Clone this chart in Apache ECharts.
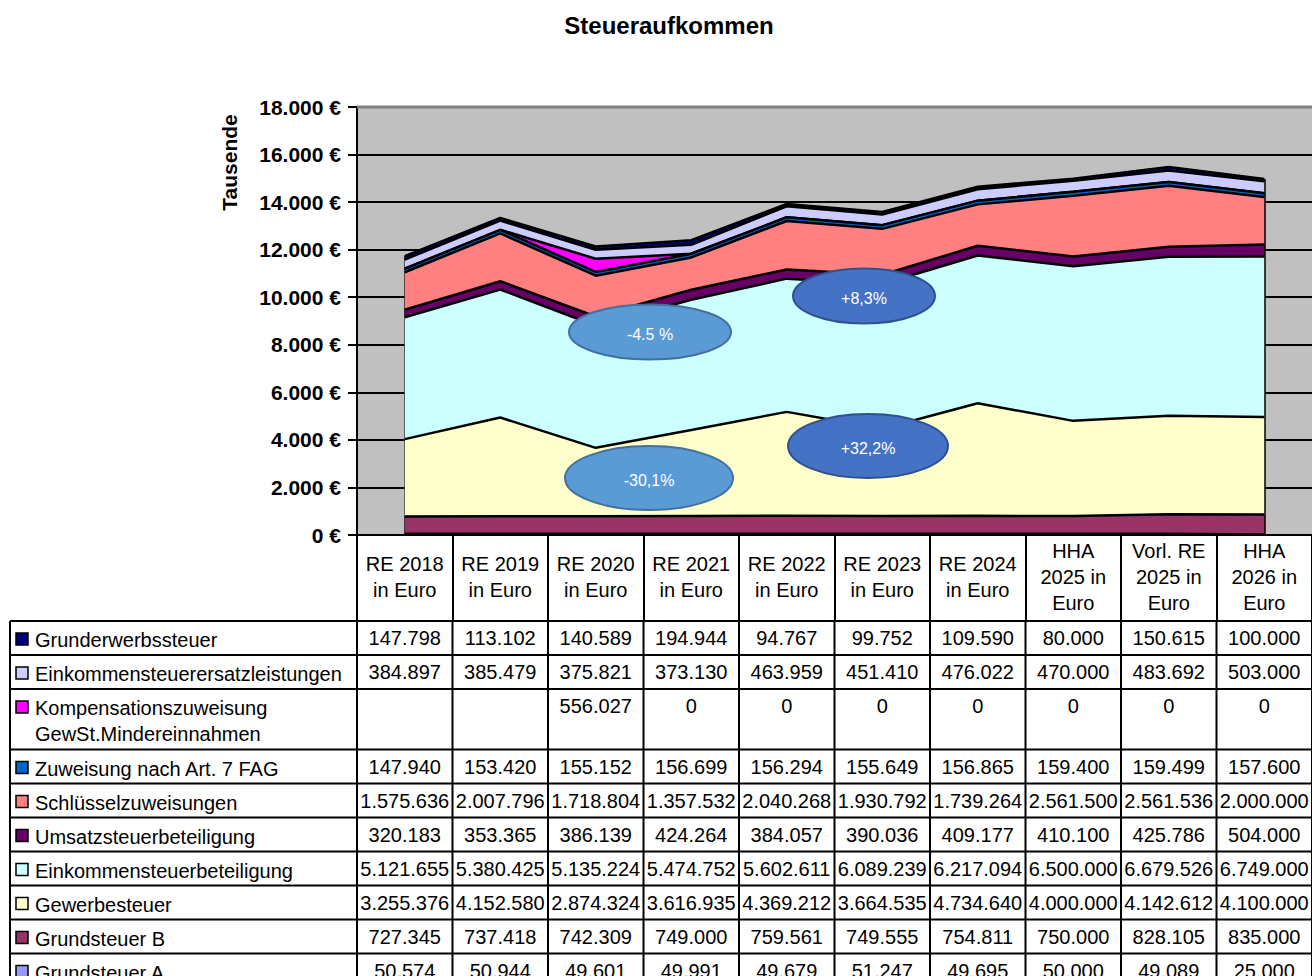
<!DOCTYPE html>
<html>
<head>
<meta charset="utf-8">
<title>Steueraufkommen</title>
<script src="https://cdn.jsdelivr.net/npm/echarts@6/dist/echarts.min.js"></script>
<style>
  html, body { margin: 0; padding: 0; background: #fff; }
  #chart { width: 1312px; height: 976px; }
</style>
</head>
<body>
<div id="chart"></div>
<script>
// column headers of the data table (= x categories)
const categories = [
  'RE 2018\nin Euro', 'RE 2019\nin Euro', 'RE 2020\nin Euro', 'RE 2021\nin Euro',
  'RE 2022\nin Euro', 'RE 2023\nin Euro', 'RE 2024\nin Euro',
  'HHA\n2025 in\nEuro', 'Vorl. RE\n2025 in\nEuro', 'HHA\n2026 in\nEuro'
];

// rows of the table, top to bottom, values in Euro
const rowNames = [
  'Grunderwerbssteuer',
  'Einkommensteuerersatzleistungen',
  'Kompensationszuweisung\nGewSt.Mindereinnahmen',
  'Zuweisung nach Art. 7 FAG',
  'Schlüsselzuweisungen',
  'Umsatzsteuerbeteiligung',
  'Einkommensteuerbeteiligung',
  'Gewerbesteuer',
  'Grundsteuer B',
  'Grundsteuer A'
];
const rowColors = ['#000080', '#CCCCFF', '#FF00FF', '#0066CC', '#FF8080',
                   '#660066', '#CCFFFF', '#FFFFCC', '#993366', '#9999FF'];

const grunderwerbssteuer = [147798, 113102, 140589, 194944, 94767, 99752, 109590, 80000, 150615, 100000];
const ersatzleistungen   = [384897, 385479, 375821, 373130, 463959, 451410, 476022, 470000, 483692, 503000];
const kompensation       = [null, null, 556027, 0, 0, 0, 0, 0, 0, 0];
const zuweisungFag       = [147940, 153420, 155152, 156699, 156294, 155649, 156865, 159400, 159499, 157600];
const schluessel         = [1575636, 2007796, 1718804, 1357532, 2040268, 1930792, 1739264, 2561500, 2561536, 2000000];
const umsatzsteuer       = [320183, 353365, 386139, 424264, 384057, 390036, 409177, 410100, 425786, 504000];
const einkommensteuer    = [5121655, 5380425, 5135224, 5474752, 5602611, 6089239, 6217094, 6500000, 6679526, 6749000];
const gewerbesteuer      = [3255376, 4152580, 2874324, 3616935, 4369212, 3664535, 4734640, 4000000, 4142612, 4100000];
const grundsteuerB       = [727345, 737418, 742309, 749000, 759561, 749555, 754811, 750000, 828105, 835000];
const grundsteuerA       = [50574, 50944, 49601, 49991, 49679, 51247, 49695, 50000, 49089, 25000];

const rows = [grunderwerbssteuer, ersatzleistungen, kompensation, zuweisungFag, schluessel,
              umsatzsteuer, einkommensteuer, gewerbesteuer, grundsteuerB, grundsteuerA];

// callouts drawn on the chart
const noteTexts = ['-4.5 %', '+8,3%', '+32,2%', '-30,1%'];

const FONT = '"Liberation Sans", Arial, sans-serif';
const fmt = v => String(v).replace(/\B(?=(\d{3})+(?!\d))/g, '.');

// chart is in thousands ("Tausende")
const totals = categories.map((c, i) => rows.reduce((s, r) => s + (r[i] || 0), 0) / 1000);

const series = [];
for (let k = rows.length - 1; k >= 0; k--) {
  const level = rows.length - 1 - k; // 0 = bottom layer
  series.push({
    name: rowNames[k].replace('\n', ' '),
    type: 'line',
    stack: 'steuer',
    z: 40 - level, // lower layers on top so each border line stays whole
    symbol: 'none',
    showSymbol: false,
    data: rows[k].map(v => (v == null ? 0 : v / 1000)),
    lineStyle: { color: '#000', width: 2.5 },
    itemStyle: { color: rowColors[k] },
    areaStyle: { color: rowColors[k], opacity: 1 },
    animation: false
  });
}
// vertical edges of the area block
series[0].markLine = {
  silent: true,
  symbol: ['none', 'none'],
  label: { show: false },
  lineStyle: { color: '#000', width: 2.5, type: 'solid' },
  animation: false,
  data: [
    [{ coord: [0, 0] }, { coord: [0, totals[0]] }],
    [{ coord: [categories.length - 1, 0] }, { coord: [categories.length - 1, totals[categories.length - 1]] }]
  ]
};

const chart = echarts.init(document.getElementById('chart'), null, { renderer: 'svg' });

chart.setOption({
  animation: false,
  title: {
    text: 'Steueraufkommen',
    left: 664,
    top: 8,
    textAlign: 'center',
    textStyle: { fontSize: 24, fontWeight: 'bold', color: '#000', fontFamily: FONT }
  },
  grid: {
    left: 357,
    top: 107,
    width: 956,
    height: 428,
    show: true,
    backgroundColor: '#C0C0C0',
    borderWidth: 0
  },
  xAxis: {
    type: 'category',
    data: categories,
    boundaryGap: true,
    axisLine: { lineStyle: { color: '#000', width: 2 } },
    axisTick: { show: true, length: 86, lineStyle: { color: '#000', width: 2 } },
    axisLabel: {
      interval: 0,
      margin: 42,
      verticalAlign: 'middle',
      fontSize: 20,
      lineHeight: 26,
      color: '#000',
      fontFamily: FONT
    }
  },
  yAxis: {
    type: 'value',
    min: 0,
    max: 18000,
    interval: 2000,
    axisLine: { show: true, lineStyle: { color: '#000', width: 2 } },
    axisTick: { show: true, length: 9, lineStyle: { color: '#000', width: 2 } },
    axisLabel: {
      margin: 16,
      fontSize: 21,
      fontWeight: 'bold',
      color: '#000',
      fontFamily: FONT,
      formatter: v => fmt(v) + ' €'
    },
    splitLine: { show: true, lineStyle: { color: '#000', width: 2 } }
  },
  series: series
});

// ---- data table, ellipses and extra text ----
const centers = categories.map((c, i) => chart.convertToPixel({ xAxisIndex: 0 }, i));
const step = centers[1] - centers[0];
const edges = [];
for (let i = 0; i <= categories.length; i++) edges.push(centers[0] - step / 2 + i * step);
const tableLeft = 10;
const tableRight = edges[edges.length - 1];

const graphics = [];
const txt = (x, y, text, extra) => ({
  type: 'text', x: x, y: y, z: 50,
  style: Object.assign({ text: text, fill: '#000', fontSize: 20, fontFamily: FONT, lineHeight: 26 }, extra || {})
});
const hline = (y, x1, x2, color, w) => ({
  type: 'line', z: 50, shape: { x1: x1, y1: y, x2: x2, y2: y }, style: { stroke: color || '#000', lineWidth: w || 2 }
});
const vline = (x, y1, y2) => ({
  type: 'line', z: 50, shape: { x1: x, y1: y1, x2: x, y2: y2 }, style: { stroke: '#000', lineWidth: 2 }
});

let y = 621;
rowNames.forEach((name, k) => {
  const lines = name.split('\n').length;
  const h = 34 + (lines - 1) * 26.5;
  graphics.push(hline(y, tableLeft, tableRight));
  graphics.push({
    type: 'rect', z: 50,
    shape: { x: 16, y: y + 12, width: 12, height: 12 },
    style: { fill: rowColors[k], stroke: '#000', lineWidth: 1.5 }
  });
  graphics.push(txt(35, y + 6, name, { align: 'left', verticalAlign: 'top' }));
  rows[k].forEach((v, i) => {
    if (v == null) return;
    graphics.push(txt(centers[i], y + 4, fmt(v), { align: 'center', verticalAlign: 'top' }));
  });
  y += h;
});
graphics.push(hline(y, tableLeft, tableRight));
graphics.push(vline(tableLeft, 621, y));
edges.forEach(x => graphics.push(vline(x, 621, y)));

// grey top border of the plot area
graphics.push(hline(107, edges[0], tableRight, '#808080', 3));

// axis unit
graphics.push({
  type: 'text', x: 229.5, y: 162.5, rotation: Math.PI / 2, z: 50,
  style: { text: 'Tausende', fontSize: 21, fontWeight: 'bold', fontFamily: FONT, fill: '#000',
           align: 'center', verticalAlign: 'middle' }
});

// percentage callouts
const notes = [
  { cx: 650, cy: 332, rx: 81, ry: 27.5, fill: '#5B9BD5', stroke: '#41719C' },
  { cx: 864, cy: 296, rx: 71, ry: 27.5, fill: '#4472C4', stroke: '#2F528F' },
  { cx: 868, cy: 446, rx: 80, ry: 32, fill: '#4472C4', stroke: '#2F528F' },
  { cx: 649, cy: 478, rx: 84, ry: 32, fill: '#5B9BD5', stroke: '#41719C' }
];
notes.forEach((n, i) => {
  graphics.push({
    type: 'ellipse', z: 60,
    shape: { cx: n.cx, cy: n.cy, rx: n.rx, ry: n.ry },
    style: { fill: n.fill, stroke: n.stroke, lineWidth: 2 }
  });
  graphics.push({
    type: 'text', x: n.cx, y: n.cy + 2, z: 61,
    style: { text: noteTexts[i], fill: '#fff', fontSize: 16, fontFamily: FONT,
             align: 'center', verticalAlign: 'middle' }
  });
});

chart.setOption({ graphic: graphics });
</script>
</body>
</html>
